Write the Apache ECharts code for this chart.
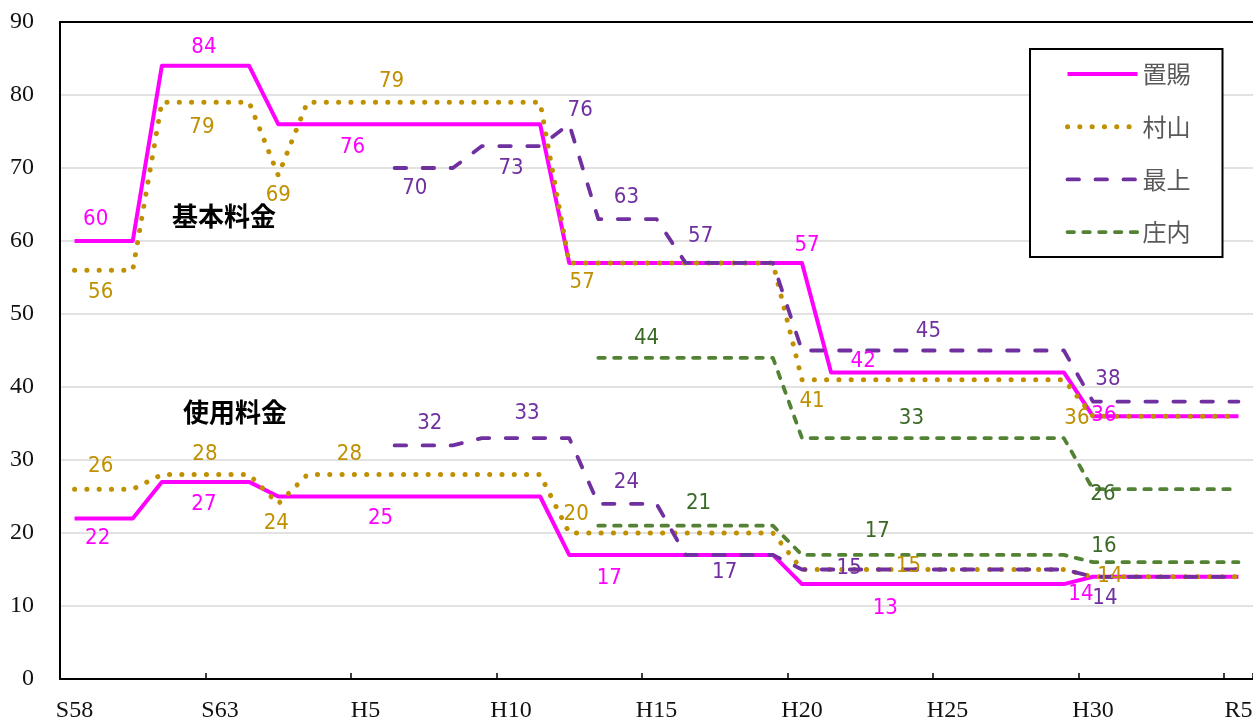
<!DOCTYPE html>
<html>
<head>
<meta charset="utf-8">
<script src="https://cdn.jsdelivr.net/npm/echarts@6/dist/echarts.min.js"></script>
<style>
  html, body { margin: 0; padding: 0; background: #fff; }
  #chart { width: 1253px; height: 720px; }
</style>
</head>
<body>
<div id="chart"></div>
<script>
// Fiscal years, Showa 58 through Reiwa 5
const years = [
  'S58','S59','S60','S61','S62','S63',
  'H1','H2','H3','H4','H5','H6','H7','H8','H9','H10',
  'H11','H12','H13','H14','H15','H16','H17','H18','H19','H20',
  'H21','H22','H23','H24','H25','H26','H27','H28','H29','H30',
  'R1','R2','R3','R4','R5'
];

const yTicks = [0, 10, 20, 30, 40, 50, 60, 70, 80, 90];

const regions = ['置賜', '村山', '最上', '庄内'];

// 基本料金 (basic charge) by region
const okitamaBase = [60,60,60,84,84,84,84,76,76,76,76,76,76,76,76,76,76,57,57,57,57,57,57,57,57,57,42,42,42,42,42,42,42,42,42,36,36,36,36,36,36];
const murayamaBase = [56,56,56,79,79,79,79,69,79,79,79,79,79,79,79,79,79,57,57,57,57,57,57,57,57,41,41,41,41,41,41,41,41,41,41,36,36,36,36,36,36];
const mogamiBase = [null,null,null,null,null,null,null,null,null,null,null,70,70,70,73,73,73,76,63,63,63,57,57,57,57,45,45,45,45,45,45,45,45,45,45,38,38,38,38,38,38];
const shonaiBase = [null,null,null,null,null,null,null,null,null,null,null,null,null,null,null,null,null,null,44,44,44,44,44,44,44,33,33,33,33,33,33,33,33,33,33,26,26,26,26,26,26];

// 使用料金 (usage charge) by region
const okitamaUse = [22,22,22,27,27,27,27,25,25,25,25,25,25,25,25,25,25,17,17,17,17,17,17,17,17,13,13,13,13,13,13,13,13,13,13,14,14,14,14,14,14];
const murayamaUse = [26,26,26,28,28,28,28,24,28,28,28,28,28,28,28,28,28,20,20,20,20,20,20,20,20,15,15,15,15,15,15,15,15,15,15,14,14,14,14,14,14];
const mogamiUse = [null,null,null,null,null,null,null,null,null,null,null,32,32,32,33,33,33,33,24,24,24,17,17,17,17,15,15,15,15,15,15,15,15,15,15,14,14,14,14,14,14];
const shonaiUse = [null,null,null,null,null,null,null,null,null,null,null,null,null,null,null,null,null,null,21,21,21,21,21,21,21,17,17,17,17,17,17,17,17,17,17,16,16,16,16,16,16];

// Which points carry a value label, and where the label sits around the point: [index, dx, dy]
const labelSpots = {
  okitamaBase:  [[1,-8,-22],[4,13,-19],[10,-13,23],[25,5,-18],[27,3,-11],[35,11,-1]],
  murayamaBase: [[1,-3,22],[4,11,25],[7,0,20],[11,-3,-21],[17,13,19],[25,10,22],[35,-16,2]],
  mogamiBase:   [[12,-9,20],[15,0,22],[17,11,-14],[19,-1,-22],[22,-14,-27],[29,10,-19],[35,15,-22]],
  shonaiBase:   [[20,-10,-20],[29,-7,-20],[35,10,5]],
  okitamaUse:   [[1,-6,20],[4,13,22],[10,15,22],[18,11,23],[28,-4,24],[35,-12,17]],
  murayamaUse:  [[1,-3,-23],[4,14,-20],[7,-2,19],[9,13,-20],[17,7,-19],[29,-10,-3],[35,17,-1]],
  mogamiUse:    [[12,6,-22],[15,16,-25],[19,-1,-22],[22,10,17],[27,-11,-1],[35,12,21]],
  shonaiUse:    [[21,13,-22],[28,-12,-24],[35,11,-16]]
};

const styles = {
  '置賜': { color: '#FF00FF', label: '#FF00FF', width: 4,   type: 'solid',     cap: 'butt' },
  '村山': { color: '#BF9000', label: '#BF9000', width: 5,   type: [0.1, 12.2], cap: 'round' },
  '最上': { color: '#7030A0', label: '#7030A0', width: 3.8, type: [11.5, 16.5], cap: 'round' },
  '庄内': { color: '#548235', label: '#3B6A27', width: 3.8, type: [6.5, 9.3],  cap: 'round' }
};

const labelFont = '"Liberation Sans Narrow", "DejaVu Sans Condensed", "Noto Sans", sans-serif';

function buildData(values, spots, color) {
  const marked = {};
  spots.forEach(s => { marked[s[0]] = s; });
  return values.map((v, i) => {
    const s = marked[i];
    if (!s || v == null) return v;
    return {
      value: v,
      label: {
        show: true,
        position: 'inside',
        offset: [s[1], s[2]],
        color: color,
        fontFamily: labelFont,
        fontSize: 22
      }
    };
  });
}

function lineStyleOf(name) {
  const st = styles[name];
  return { color: st.color, width: st.width, type: st.type, cap: st.cap, join: 'round' };
}

function makeSeries(name, values, spots) {
  const st = styles[name];
  return {
    name: name,
    type: 'line',
    data: buildData(values, spots, st.label),
    symbol: 'circle',
    symbolSize: 0,
    showSymbol: true,
    connectNulls: false,
    label: { show: false },
    itemStyle: { color: st.color },
    lineStyle: lineStyleOf(name),
    emphasis: { disabled: true },
    animation: false
  };
}

const series = [
  makeSeries('置賜', okitamaBase, labelSpots.okitamaBase),
  makeSeries('置賜', okitamaUse, labelSpots.okitamaUse),
  makeSeries('村山', murayamaBase, labelSpots.murayamaBase),
  makeSeries('村山', murayamaUse, labelSpots.murayamaUse),
  makeSeries('最上', mogamiBase, labelSpots.mogamiBase),
  makeSeries('最上', mogamiUse, labelSpots.mogamiUse),
  makeSeries('庄内', shonaiBase, labelSpots.shonaiBase),
  makeSeries('庄内', shonaiUse, labelSpots.shonaiUse)
];

const chart = echarts.init(document.getElementById('chart'), null, { renderer: 'canvas' });

const axisFont = '"Liberation Serif", "DejaVu Serif", serif';

chart.setOption({
  animation: false,
  backgroundColor: '#ffffff',
  grid: { left: 60, top: 22, right: 0, bottom: 41, containLabel: false, outerBoundsMode: 'none' },
  legend: {
    data: regions.map(r => ({ name: r, lineStyle: lineStyleOf(r), itemStyle: { opacity: 0 } })),
    orient: 'vertical',
    left: 1030,
    top: 49,
    padding: [13, 32, 13, 35],
    itemWidth: 70,
    itemHeight: 14,
    itemGap: 28.7,
    backgroundColor: '#fff',
    borderColor: '#000',
    borderWidth: 2,
    borderRadius: 0,
    itemStyle: { opacity: 0 },
    textStyle: { color: '#595959', fontSize: 24, fontFamily: '"Noto Sans CJK JP", sans-serif' },
    selectedMode: false
  },
  xAxis: [
    {
      type: 'category',
      data: years,
      boundaryGap: true,
      axisLine: { show: true, lineStyle: { color: '#000', width: 2 } },
      axisTick: { show: true, inside: true, length: 6, interval: 4, lineStyle: { color: '#000', width: 1.5 } },
      axisLabel: { interval: 4, margin: 20, color: '#111', fontSize: 24, fontFamily: axisFont },
      splitLine: { show: false }
    },
    {
      // plain frame line along the top of the plot
      type: 'category',
      data: years,
      position: 'top',
      boundaryGap: true,
      axisLine: { show: true, lineStyle: { color: '#000', width: 2 } },
      axisTick: { show: false },
      axisLabel: { show: false },
      splitLine: { show: false }
    }
  ],
  yAxis: {
    type: 'value',
    min: yTicks[0],
    max: yTicks[yTicks.length - 1],
    interval: 10,
    axisLine: { show: true, lineStyle: { color: '#000', width: 2 } },
    axisTick: { show: false },
    axisLabel: { margin: 26, color: '#111', fontSize: 24, fontFamily: axisFont },
    splitLine: { show: true, lineStyle: { color: '#d9d9d9', width: 1.5 } }
  },
  graphic: [
    {
      type: 'text', left: 172, top: 203,
      style: { text: '基本料金', fontSize: 26, fontWeight: 'bold', fill: '#000',
               fontFamily: '"Noto Sans CJK JP", sans-serif' }
    },
    {
      type: 'text', left: 183, top: 399,
      style: { text: '使用料金', fontSize: 26, fontWeight: 'bold', fill: '#000',
               fontFamily: '"Noto Sans CJK JP", sans-serif' }
    }
  ],
  series: series
});
</script>
</body>
</html>
